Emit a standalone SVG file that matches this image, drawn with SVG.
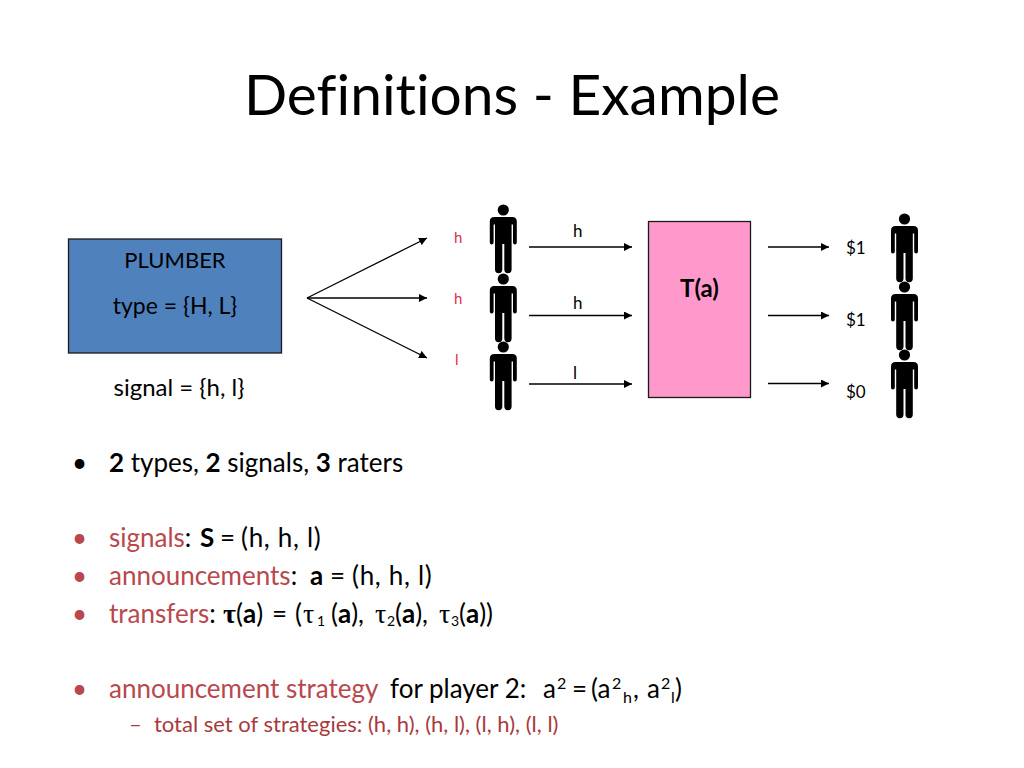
<svg xmlns="http://www.w3.org/2000/svg" width="1024" height="768" viewBox="0 0 1024 768">
<style>
text{font-family:Lato,"Open Sans","Liberation Sans",sans-serif;fill:#000;font-variant-ligatures:none}
.s{font-size:17px}
.r{fill:#b9484e}
.dr{fill:#a83a3e}
.red{fill:#d9304f;font-size:15px}
.b{font-weight:700}
.g{font-family:"Liberation Serif",serif;font-size:28px}
.sm{font-size:14px}
.w{letter-spacing:.7px}
.c{stroke:#000;stroke-width:1.3;fill:none;marker-end:url(#ah)}
</style>
<defs>
<marker id="ah" markerUnits="userSpaceOnUse" markerWidth="9" markerHeight="8" refX="8" refY="4" orient="auto"><path d="M0 0L8 4L0 8Z" fill="#000"/></marker>
<symbol id="man" overflow="visible"><circle cx="0" cy="0" r="5.600" fill="#000"/><path d="M-9 7H9Q13.500 7 13.500 11.500V32.500A1.900 1.900 0 0 1 9.700 32.500V14.500H8.300V59.500A3.400 3.400 0 0 1 1.000 59.500V34H-1.000V59.500A3.400 3.400 0 0 1 -8.300 59.500V14.500H-9.700V32.500A1.900 1.900 0 0 1 -13.500 32.500V11.500Q-13.500 7 -9 7Z" fill="#000"/></symbol>
</defs>
<text id="title" x="244" y="115" font-size="56" textLength="536" lengthAdjust="spacingAndGlyphs">Definitions - Example</text>
<g id="plumber"><rect x="68.500" y="239" width="213" height="114" fill="#4f81bd" stroke="#1a1a1a" stroke-width="1.300"/><text x="175" y="268" text-anchor="middle" style="font-size:22px">PLUMBER</text><text x="175" y="314" text-anchor="middle" style="font-size:23px">type = {H, L}</text></g>
<g id="signal"><text x="179" y="396" text-anchor="middle" style="font-size:24px">signal = {h, l}</text></g>
<g id="ta"><rect x="648.500" y="221.500" width="102" height="176" fill="#ff99cc" stroke="#1a1a1a" stroke-width="1.300"/><text x="699.500" y="297" text-anchor="middle" class="b" style="font-size:24px">T(a)</text></g>
<g id="connectors">
<path class="c" d="M307 298L427 238"/><path class="c" d="M307 298H427"/><path class="c" d="M307 298L427 358"/>
<path class="c" d="M529 247H632"/><path class="c" d="M529 315.500H632"/><path class="c" d="M529 384H632"/>
<path class="c" d="M768 247H829"/><path class="c" d="M768 315.500H829"/><path class="c" d="M768 383.500H829"/>
</g>
<g id="rater1"><use href="#man" x="503.300" y="210"/></g>
<g id="rater2"><use href="#man" x="503.300" y="279"/></g>
<g id="rater3"><use href="#man" x="503.300" y="347"/></g>
<g id="payee1"><use href="#man" x="904.500" y="219"/></g>
<g id="payee2"><use href="#man" x="904.500" y="287"/></g>
<g id="payee3"><use href="#man" x="904.500" y="355"/></g>
<g id="signal-labels"><text x="454" y="243" class="red">h</text><text x="454" y="304" class="red">h</text><text x="455" y="365" class="red">l</text></g>
<g id="announce-labels"><text x="573" y="237" class="s">h</text><text x="573" y="309" class="s">h</text><text x="573" y="379" class="s">l</text></g>
<g id="pay-labels"><text x="846" y="254" class="s">$1</text><text x="846" y="326" class="s">$1</text><text x="846" y="398" class="s">$0</text></g>
<g id="bullets" style="font-size:26px">
<text x="72" y="472">•</text>
<text x="109" y="472"><tspan class="b">2</tspan> types, <tspan class="b">2</tspan> signals, <tspan class="b">3</tspan> raters</text>
<text x="72" y="547" class="r">•</text>
<text x="109" y="547"><tspan class="r">signals</tspan>:<tspan class="b" x="200">S</tspan><tspan x="220">=</tspan><tspan x="241" class="w">(h, h, l)</tspan></text>
<text x="72" y="585" class="r">•</text>
<text x="109" y="585"><tspan class="r">announcements</tspan>:<tspan class="b" x="310">a</tspan><tspan x="330">=</tspan><tspan x="352" class="w">(h, h, l)</tspan></text>
<text x="72" y="623" class="r">•</text>
<text x="109" y="623"><tspan class="r">transfers</tspan>:<tspan class="b g" x="223">τ</tspan><tspan x="236">(</tspan><tspan class="b">a</tspan>)<tspan x="272">=</tspan><tspan x="295">(</tspan><tspan class="g" x="303">τ</tspan><tspan class="sm" x="317" dy="3">1</tspan><tspan x="331" dy="-3">(</tspan><tspan class="b">a</tspan>),<tspan class="g" x="375">τ</tspan><tspan class="sm" x="387" dy="3">2</tspan><tspan x="395" dy="-3">(</tspan><tspan class="b">a</tspan>),<tspan class="g" x="439">τ</tspan><tspan class="sm" x="451" dy="3">3</tspan><tspan x="459" dy="-3">(</tspan><tspan class="b">a</tspan>))</text>
<text x="72" y="698" class="r">•</text>
<text x="109" y="698"><tspan class="r">announcement strategy</tspan><tspan x="390">for player 2:</tspan><tspan x="543">a</tspan><tspan font-size="16" x="557" dy="-9">2</tspan><tspan x="572" dy="9">=</tspan><tspan x="591">(a</tspan><tspan font-size="16" x="612" dy="-9">2</tspan><tspan font-size="16" x="623" dy="14">h</tspan><tspan x="633" dy="-5">,</tspan><tspan x="647">a</tspan><tspan font-size="16" x="661" dy="-9">2</tspan><tspan font-size="16" x="671" dy="14">l</tspan><tspan x="675" dy="-5">)</tspan></text>
<text x="129" y="732" class="dr" style="font-size:22px">–</text>
<text x="154" y="732" class="dr" style="font-size:22px">total set of strategies: (h, h), (h, l), (l, h), (l, l)</text>
</g>
</svg>
